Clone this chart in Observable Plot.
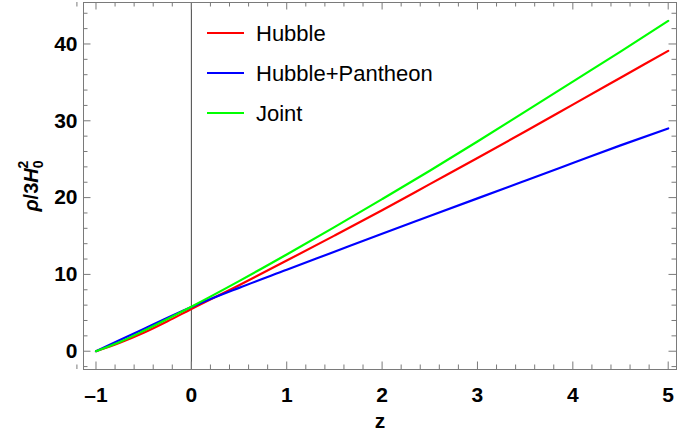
<!DOCTYPE html>
<html><head><meta charset="utf-8">
<script src="https://cdn.jsdelivr.net/npm/d3@7"></script>
<script src="https://cdn.jsdelivr.net/npm/@observablehq/plot@0.6"></script>
<style>body{margin:0;background:#fff} #chart{width:677px;height:443px}</style>
</head><body><div id="chart"></div>
<script>
// ---- data ----
const z = [-1, -0.75, -0.5, -0.25, 0, 0.5, 1, 1.5, 2, 2.5, 3, 3.5, 4, 4.5, 5];
const hubble         = [0, 1.10, 2.40, 3.90, 5.50, 8.60, 11.8, 15.05, 18.35, 21.75, 25.15, 28.6, 32.1, 35.6, 39.1];
const hubblePantheon = [0, 1.45, 2.90, 4.35, 5.75, 8.25, 10.6, 12.95, 15.3, 17.6, 19.9, 22.2, 24.5, 26.8, 29.0];
const joint          = [0, 1.20, 2.65, 4.20, 5.80, 9.13, 12.6, 16.15, 19.8, 23.5, 27.3, 31.2, 35.1, 39.0, 43.0];
const seriesNames  = ["Hubble", "Hubble+Pantheon", "Joint"];
const seriesColors = ["#ff0000", "#0000ff", "#00ff00"];
const xMajor = [-1, 0, 1, 2, 3, 4, 5];
const yMajor = [0, 10, 20, 30, 40];
const xLabel = "z";
const yLabel = "ρ/3H";

// ---- build ----
const seriesValues = [hubble, hubblePantheon, joint];
const rows = [];
seriesValues.forEach((vals, i) => vals.forEach((v, j) => rows.push({z: z[j], v, s: seriesNames[i]})));
const xMinor = d3.range(-1.2, 5.2001, 0.2).map(d => +d.toFixed(1)).filter(d => !xMajor.includes(d));
const yMinor = d3.range(-2, 46, 2).filter(d => !yMajor.includes(d));

const W = 677, H = 443, mL = 83, mR = 1, mT = 2, mB = 74;
const pH = H - mT - mB, pW = W - mL - mR;
const frameColor = "#7a7a7a";

const svg = Plot.plot({
  width: W, height: H,
  marginLeft: mL, marginRight: mR, marginTop: mT, marginBottom: mB,
  style: {fontFamily: "'Liberation Sans', Arial, sans-serif", fontSize: "21px", fontWeight: "bold", color: "#000", background: "#fff"},
  x: {domain: [-1.131, 5.087], ticks: xMajor, tickSize: 0, tickPadding: 18, label: null,
      tickFormat: d => d < 0 ? "\u2013" + (-d) : String(d)},
  y: {domain: [-2.38, 45.4], ticks: yMajor, tickSize: 0, tickPadding: 6, label: null},
  color: {domain: seriesNames, range: seriesColors},
  marks: [
    Plot.ruleX([0], {stroke: "#444", strokeWidth: 1}),
    Plot.tickX(xMajor, {x: d => d, insetTop: pH - 7.5, stroke: frameColor}),
    Plot.tickX(xMinor, {x: d => d, insetTop: pH - 4.5, stroke: frameColor}),
    Plot.tickX(xMajor, {x: d => d, insetBottom: pH - 7.5, stroke: frameColor}),
    Plot.tickX(xMinor, {x: d => d, insetBottom: pH - 4.5, stroke: frameColor}),
    Plot.tickY(yMajor, {y: d => d, insetRight: pW - 7.5, stroke: frameColor}),
    Plot.tickY(yMinor, {y: d => d, insetRight: pW - 4.5, stroke: frameColor}),
    Plot.tickY(yMajor, {y: d => d, insetLeft: pW - 7.5, stroke: frameColor}),
    Plot.tickY(yMinor, {y: d => d, insetLeft: pW - 4.5, stroke: frameColor}),
    Plot.line(rows, {x: "z", y: "v", stroke: "s", z: "s", strokeWidth: 2.2, curve: "monotone-x"}),
    Plot.frame({stroke: frameColor}),
    Plot.text([xLabel], {text: d => d, frameAnchor: "bottom", textAnchor: "middle", lineAnchor: "middle", dy: 52, fontSize: 21, fontWeight: "bold"}),
    Plot.text([yLabel], {text: d => d, frameAnchor: "left", textAnchor: "middle", lineAnchor: "middle", dx: -52, rotate: -90, fontSize: 20, fontWeight: "bold"})
  ]
});
document.getElementById("chart").appendChild(svg);

// y label with italic symbols and stacked sub/superscript
d3.select(svg).selectAll("text").filter(function() { return this.textContent === yLabel; }).each(function() {
  const t = d3.select(this);
  t.text(null);
  t.append("tspan").attr("font-style", "italic").text("ρ");
  t.append("tspan").text("/3");
  t.append("tspan").attr("font-style", "italic").text("H");
  t.append("tspan").attr("font-size", 14).attr("dy", 5).text("0");
  t.append("tspan").attr("font-size", 14).attr("dx", -8).attr("dy", -15).text("2");
});

// legend inside the frame
const lg = d3.select(svg).append("g").attr("font-weight", "normal").attr("font-size", 22).attr("text-anchor", "start");
seriesNames.forEach((n, i) => {
  const y = 33 + i * 40;
  lg.append("line").attr("x1", 207).attr("x2", 244).attr("y1", y).attr("y2", y)
    .attr("stroke", seriesColors[i]).attr("stroke-width", 2.2);
  lg.append("text").attr("x", 256).attr("y", y).attr("dy", "0.36em").attr("fill", "#000").text(n);
});
</script></body></html>
